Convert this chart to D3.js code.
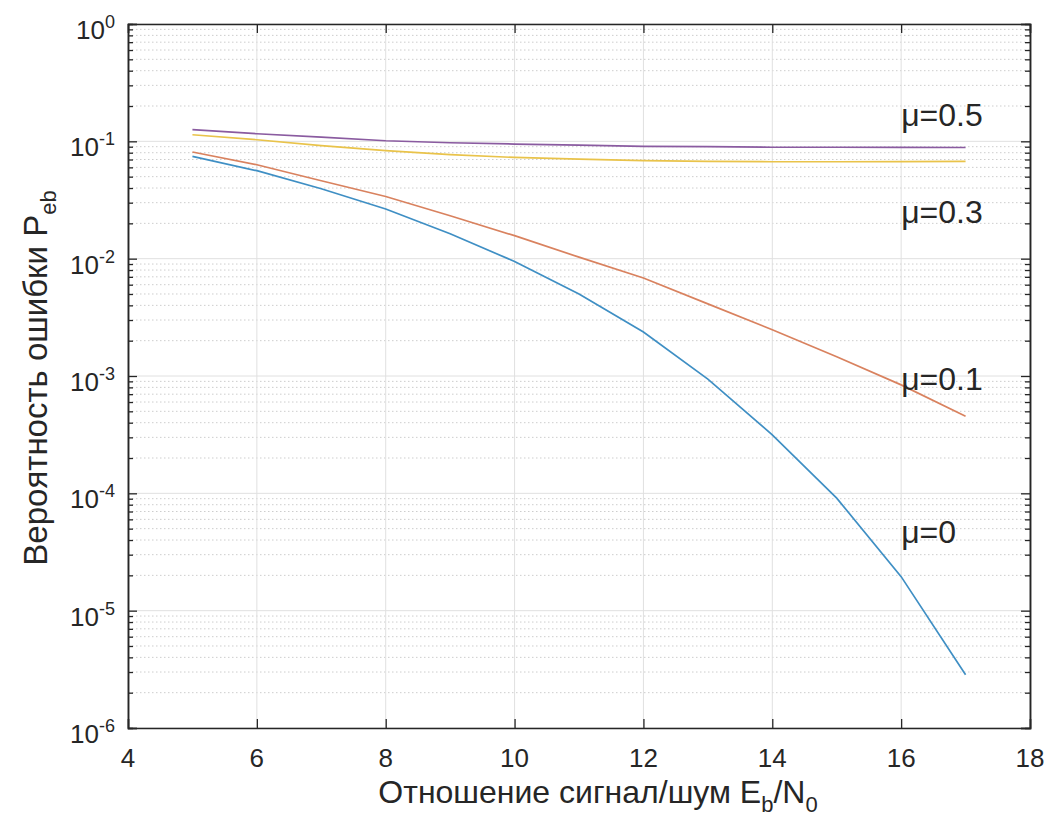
<!DOCTYPE html>
<html>
<head>
<meta charset="utf-8">
<script src="https://cdn.jsdelivr.net/npm/d3@7"></script>
<style>
  body { margin: 0; background: #fff; }
  text { font-family: "Liberation Sans", Arial, sans-serif; fill: #262626; }
</style>
</head>
<body>
<svg width="1051" height="828"></svg>
<script>
// Eb/N0, dB
var snr = [5, 6, 7, 8, 9, 10, 11, 12, 13, 14, 15, 16, 17];

// bit error probability for each mu
var mu0  = [0.0744, 0.0562, 0.0394, 0.0265, 0.0163, 0.00946, 0.0050, 0.00237, 9.4e-4, 3.15e-4, 9.1e-5, 1.95e-5, 2.84e-6];
var mu01 = [0.0811, 0.0632, 0.0461, 0.0339, 0.0232, 0.0157, 0.0103, 0.00684, 0.00412, 0.00248, 0.00146, 8.4e-4, 4.53e-4];
var mu03 = [0.1138, 0.1032, 0.0918, 0.0832, 0.0769, 0.0729, 0.0704, 0.0684, 0.0675, 0.0670, 0.0670, 0.0672, 0.0675];
var mu05 = [0.1256, 0.1160, 0.1084, 0.1012, 0.0973, 0.0948, 0.0927, 0.0905, 0.0900, 0.0890, 0.0890, 0.0888, 0.0886];

var seriesNames = ['μ=0', 'μ=0.1', 'μ=0.3', 'μ=0.5'];
var seriesColors = ['#3f8fc4', '#d9825f', '#e9c34a', '#8a5ba0'];
var seriesValues = [mu0, mu01, mu03, mu05];

// label anchor points (data coords)
var labelX = [16, 16, 16, 16];
var labelY = [3.8e-5, 7.6e-4, 0.0202, 0.136];

var xTicks = [4, 6, 8, 10, 12, 14, 16, 18];
var yExp = [0, -1, -2, -3, -4, -5, -6];

var svg = d3.select('svg'),
    margin = {left: 128, right: 21, top: 24, bottom: 100},
    width = +svg.attr('width') - margin.left - margin.right,
    height = +svg.attr('height') - margin.top - margin.bottom;

var x = d3.scaleLinear().domain([4, 18]).range([margin.left, margin.left + width]);
var y = d3.scaleLog().domain([1e-6, 1]).range([margin.top + height, margin.top]);

var g = svg.append('g');

// minor grid (dotted)
var minorVals = [];
yExp.slice(1).forEach(function(e) {
  for (var k = 2; k <= 9; k++) minorVals.push(k * Math.pow(10, e));
});

g.selectAll('.minor').data(minorVals).enter().append('line')
  .attr('x1', x(4)).attr('x2', x(18))
  .attr('y1', function(d) { return y(d); })
  .attr('y2', function(d) { return y(d); })
  .attr('stroke', '#cdcdcd')
  .attr('stroke-dasharray', '1.5,2.5');

// major grid
g.selectAll('.gy').data(yExp).enter().append('line')
  .attr('x1', x(4)).attr('x2', x(18))
  .attr('y1', function(d) { return y(Math.pow(10, d)); })
  .attr('y2', function(d) { return y(Math.pow(10, d)); })
  .attr('stroke', '#e0e0e0');

g.selectAll('.gx').data(xTicks).enter().append('line')
  .attr('x1', function(d) { return x(d); })
  .attr('x2', function(d) { return x(d); })
  .attr('y1', y(1)).attr('y2', y(1e-6))
  .attr('stroke', '#e0e0e0');

// curves
var line = d3.line()
  .x(function(d) { return x(d[0]); })
  .y(function(d) { return y(d[1]); });

seriesValues.forEach(function(vals, i) {
  g.append('path')
    .datum(snr.map(function(s, j) { return [s, vals[j]]; }))
    .attr('d', line)
    .attr('fill', 'none')
    .attr('stroke', seriesColors[i])
    .attr('stroke-width', 1.7);
});

// axes with inward ticks, box
var axB = d3.axisBottom(x).tickValues(xTicks).tickSize(-9).tickFormat('');
var axT = d3.axisTop(x).tickValues(xTicks).tickSize(-9).tickFormat('');
var majY = yExp.map(function(e) { return Math.pow(10, e); });
var axL = d3.axisLeft(y).tickValues(majY).tickSize(-9).tickFormat('');
var axR = d3.axisRight(y).tickValues(majY).tickSize(-9).tickFormat('');
var axLm = d3.axisLeft(y).tickValues(minorVals).tickSize(-5).tickFormat('');
var axRm = d3.axisRight(y).tickValues(minorVals).tickSize(-5).tickFormat('');

function styleAxis(sel) {
  sel.selectAll('path').attr('stroke', '#262626').attr('stroke-width', 1.5);
  sel.selectAll('line').attr('stroke', '#262626').attr('stroke-width', 1.3);
}

svg.append('g').attr('transform', 'translate(0,' + y(1e-6) + ')').call(axB).call(styleAxis);
svg.append('g').attr('transform', 'translate(0,' + y(1) + ')').call(axT).call(styleAxis);
svg.append('g').attr('transform', 'translate(' + x(4) + ',0)').call(axLm).call(styleAxis);
svg.append('g').attr('transform', 'translate(' + x(18) + ',0)').call(axRm).call(styleAxis);
svg.append('g').attr('transform', 'translate(' + x(4) + ',0)').call(axL).call(styleAxis);
svg.append('g').attr('transform', 'translate(' + x(18) + ',0)').call(axR).call(styleAxis);

// tick labels
svg.selectAll('.xl').data(xTicks).enter().append('text')
  .attr('x', function(d) { return x(d); })
  .attr('y', y(1e-6) + 39)
  .attr('text-anchor', 'middle')
  .style('font-size', '26px')
  .text(function(d) { return d; });

var yl = svg.selectAll('.yl').data(yExp).enter().append('text')
  .attr('x', x(4) - 13)
  .attr('y', function(d) { return y(Math.pow(10, d)) + 15; })
  .attr('text-anchor', 'end')
  .style('font-size', '26px');
yl.append('tspan').text('10');
yl.append('tspan')
  .attr('dy', -11)
  .style('font-size', '18px')
  .text(function(d) { return d === 0 ? '0' : '-' + (-d); });

// curve labels
svg.selectAll('.ml').data(seriesNames).enter().append('text')
  .attr('x', function(d, i) { return x(labelX[i]); })
  .attr('y', function(d, i) { return y(labelY[i]); })
  .style('font-size', '32px')
  .text(function(d) { return d; });

// axis titles
var xt = svg.append('text')
  .attr('x', 598)
  .attr('y', 803)
  .attr('text-anchor', 'middle')
  .style('font-size', '32px');
xt.append('tspan').text('Отношение сигнал/шум E');
xt.append('tspan').attr('dy', 9).style('font-size', '22px').text('b');
xt.append('tspan').attr('dy', -9).text('/N');
xt.append('tspan').attr('dy', 9).style('font-size', '22px').text('0');

var ytl = svg.append('text')
  .attr('transform', 'translate(47,378) rotate(-90)')
  .attr('text-anchor', 'middle')
  .style('font-size', '33px');
ytl.append('tspan').text('Вероятность ошибки P');
ytl.append('tspan').attr('dy', 9).style('font-size', '22px').text('eb');
</script>
</body>
</html>
